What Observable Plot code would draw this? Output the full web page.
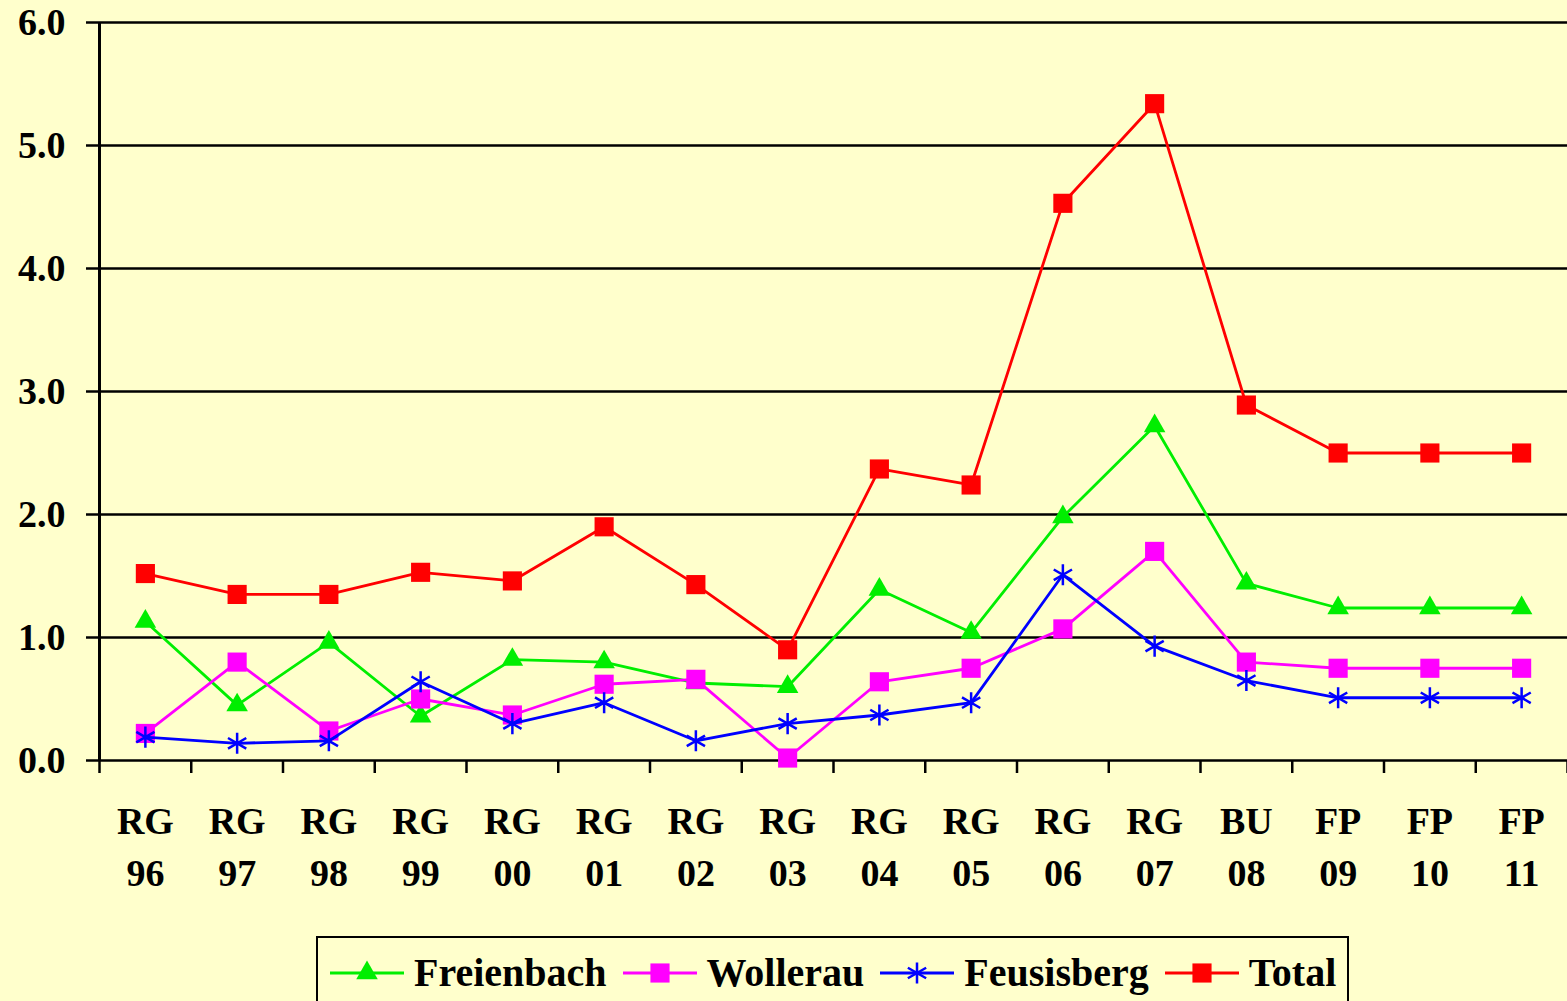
<!DOCTYPE html>
<html>
<head>
<meta charset="utf-8">
<script src="https://cdn.jsdelivr.net/npm/d3@7"></script>
<script src="https://cdn.jsdelivr.net/npm/@observablehq/plot@0.6"></script>
<style>
  html, body { margin: 0; padding: 0; background: #FFFFCC; width: 1567px; height: 1001px; overflow: hidden; }
  #chart { position: absolute; left: 0; top: 0; }
  #legend {
    position: absolute; left: 316px; top: 936px; width: 1029px; height: 80px;
    border: 2px solid #000; box-sizing: content-box;
    font-family: "Liberation Serif", "Times New Roman", serif; font-weight: bold; font-size: 40px;
    display: flex; align-items: flex-start;
  }
  .item { display: flex; align-items: center; height: 44px; margin-top: 13px; }
  .item svg { display: block; }
  .item span { margin-left: 10px; margin-right: 16px; line-height: 44px; }
</style>
</head>
<body>
<div id="chart"></div>
<div id="legend"></div>
<script>
const labelTop = ["RG","RG","RG","RG","RG","RG","RG","RG","RG","RG","RG","RG","BU","FP","FP","FP"];
const labelBottom = ["96","97","98","99","00","01","02","03","04","05","06","07","08","09","10","11"];
const seriesNames = ["Freienbach","Wollerau","Feusisberg","Total"];
const seriesColors = ["#00EE00","#FF00FF","#0000FF","#FF0000"];
const seriesSymbols = ["triangle","square","asterisk","square"];
const freienbach = [1.13,0.45,0.96,0.36,0.82,0.80,0.63,0.60,1.39,1.04,1.98,2.72,1.44,1.24,1.24,1.24];
const wollerau   = [0.22,0.80,0.24,0.50,0.37,0.62,0.66,0.02,0.64,0.75,1.07,1.70,0.80,0.75,0.75,0.75];
const feusisberg = [0.19,0.14,0.16,0.64,0.30,0.47,0.16,0.30,0.37,0.47,1.51,0.93,0.65,0.51,0.51,0.51];
const total      = [1.52,1.35,1.35,1.53,1.46,1.90,1.43,0.90,2.37,2.24,4.53,5.34,2.89,2.50,2.50,2.50];
const yTicks = [0,1,2,3,4,5,6];

const seriesValues = [freienbach, wollerau, feusisberg, total];
const n = labelTop.length;
const idx = d3.range(n);
const boundaries = d3.range(n + 1).map(k => k - 0.5);

const marks = [
  Plot.ruleY(yTicks, {stroke: "#000", strokeWidth: 2.5}),
  Plot.axisY({ticks: yTicks, tickFormat: d => d.toFixed(1), tickSize: 13, tickPadding: 21,
    stroke: "#000", strokeWidth: 2.5, fontSize: 38, fontWeight: "bold", fill: "#000", label: null}),
  Plot.ruleX([-0.5], {y1: 0, y2: 6, stroke: "#000", strokeWidth: 3}),
  Plot.axisX({ticks: boundaries, tickFormat: () => "", tickSize: 13, stroke: "#000", strokeWidth: 2.5, label: null}),
  Plot.axisX({ticks: idx, tickFormat: i => labelTop[i] + "\n" + labelBottom[i], tickSize: 0, tickPadding: 37,
    fontSize: 38, fontWeight: "bold", fill: "#000", lineHeight: 1.36, label: null})
];

seriesNames.forEach((name, s) => {
  const data = seriesValues[s].map((v, i) => ({i, v}));
  marks.push(Plot.line(data, {x: "i", y: "v", stroke: seriesColors[s], strokeWidth: 2.8}));
  if (seriesSymbols[s] === "asterisk") {
    marks.push(Plot.dot(data, {x: "i", y: "v", symbol: "asterisk", r: 10, stroke: seriesColors[s], strokeWidth: 2.5}));
  } else if (seriesSymbols[s] === "triangle") {
    marks.push(Plot.dot(data, {x: "i", y: "v", symbol: "triangle", r: 8, fill: seriesColors[s], stroke: "none"}));
  } else {
    marks.push(Plot.dot(data, {x: "i", y: "v", symbol: "square", r: 10.8, fill: seriesColors[s], stroke: "none"}));
  }
});

const chart = Plot.plot({
  width: 1567,
  height: 920,
  marginLeft: 99,
  marginRight: 0,
  marginTop: 22,
  marginBottom: 160,
  style: {background: "transparent", fontFamily: "'Liberation Serif', 'Times New Roman', serif", color: "#000", overflow: "visible"},
  x: {type: "linear", domain: [-0.5, n - 0.5]},
  y: {domain: [0, 6]},
  marks
});
document.getElementById("chart").appendChild(chart);

// Legend (HTML)
const legend = document.getElementById("legend");
const symbolPath = (sym, r) => d3.symbol(d3["symbol" + sym[0].toUpperCase() + sym.slice(1)], Math.PI * r * r)();
seriesNames.forEach((name, s) => {
  const item = document.createElement("div");
  item.className = "item";
  if (s === 0) item.style.marginLeft = "12px";
  const svg = d3.create("svg").attr("width", 74).attr("height", 44);
  svg.append("line").attr("x1", 0).attr("x2", 74).attr("y1", 22).attr("y2", 22)
    .attr("stroke", seriesColors[s]).attr("stroke-width", 3);
  const sym = seriesSymbols[s];
  const r = sym === "triangle" ? 8 : sym === "asterisk" ? 10 : 10.8;
  const p = svg.append("path").attr("transform", "translate(37,22)").attr("d", symbolPath(sym, r));
  if (sym === "asterisk") p.attr("fill", "none").attr("stroke", seriesColors[s]).attr("stroke-width", 2.5);
  else p.attr("fill", seriesColors[s]);
  item.appendChild(svg.node());
  const span = document.createElement("span");
  span.textContent = name;
  item.appendChild(span);
  legend.appendChild(item);
});
</script>
</body>
</html>
